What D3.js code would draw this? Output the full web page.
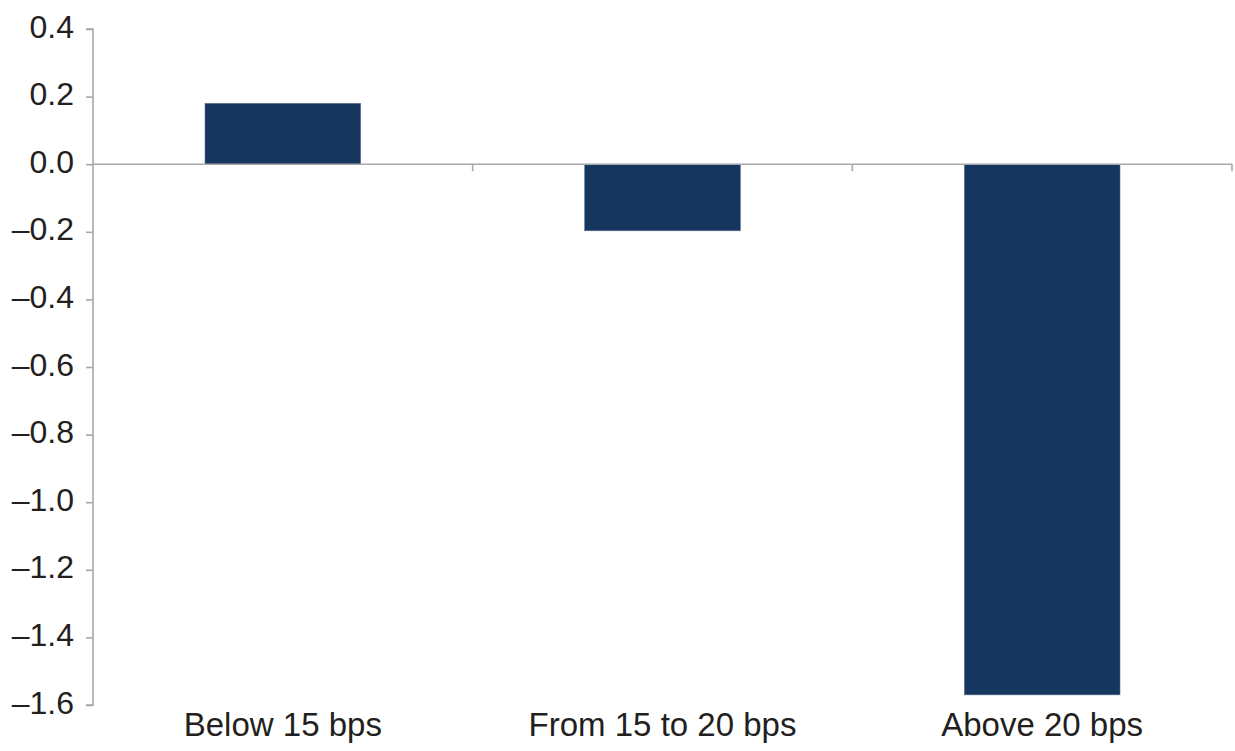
<!DOCTYPE html>
<html>
<head>
<meta charset="utf-8">
<script src="https://cdn.jsdelivr.net/npm/d3@7"></script>
<style>
  html, body { margin: 0; padding: 0; background: #fff; }
  svg { display: block; }
</style>
</head>
<body>
<svg id="chart" width="1235" height="751"></svg>
<script>
const categories = ["Below 15 bps", "From 15 to 20 bps", "Above 20 bps"];
const values = [0.18, -0.197, -1.57];
const yTicks = [0.4, 0.2, 0.0, -0.2, -0.4, -0.6, -0.8, -1.0, -1.2, -1.4, -1.6];

(function () {
const svg = d3.select("#chart");
const mLeft = 93, mRight = 1232, mTop = 29, mBottom = 705;
const axisColor = "#a6a8ab";
const textColor = "#231f20";
const barColor = "#15365e";
const font = "'Liberation Sans', Arial, Helvetica, sans-serif";

const x = d3.scaleBand().domain(categories).range([mLeft, mRight])
  .paddingInner(0.59).paddingOuter(0.295);
const y = d3.scaleLinear().domain([-1.6, 0.4]).range([mBottom, mTop]);

const fmt = v => (v < 0 ? "\u2013" : "") + Math.abs(v).toFixed(1);

// Y axis
const yAxis = svg.append("g").attr("transform", `translate(${mLeft},0)`)
  .call(d3.axisLeft(y).tickValues(yTicks).tickFormat(fmt).tickSize(7).tickPadding(12));
yAxis.select(".domain").attr("stroke", axisColor).attr("stroke-width", 1.6)
  .attr("d", `M-7,${y(0.4)}H0V${y(-1.6)}H-7`);
yAxis.selectAll(".tick line").attr("stroke", axisColor).attr("stroke-width", 1.6);
yAxis.selectAll(".tick text").attr("fill", textColor)
  .style("font-family", font).style("font-size", "32px").attr("dy", "0.25em");

// Bars
svg.append("g").selectAll("rect").data(values).join("rect")
  .attr("x", (d, i) => x(categories[i]))
  .attr("width", x.bandwidth())
  .attr("y", d => y(Math.max(0, d)))
  .attr("height", d => Math.abs(y(d) - y(0)))
  .attr("fill", barColor)
  .attr("stroke", "#5b7090").attr("stroke-width", 0.6);

// Zero line with category boundary ticks
const step = x.step();
const bounds = categories.map((c, i) => mLeft + step * (i + 1));
const zx = svg.append("g");
zx.append("line").attr("x1", mLeft).attr("x2", mRight).attr("y1", y(0)).attr("y2", y(0))
  .attr("stroke", axisColor).attr("stroke-width", 1.6);
zx.selectAll("line.tk").data(bounds).join("line").attr("class", "tk")
  .attr("x1", d => d).attr("x2", d => d).attr("y1", y(0)).attr("y2", y(0) + 7)
  .attr("stroke", axisColor).attr("stroke-width", 1.6);

// Category labels
svg.append("g").selectAll("text").data(categories).join("text")
  .attr("x", d => x(d) + x.bandwidth() / 2)
  .attr("y", 736)
  .attr("text-anchor", "middle")
  .attr("fill", textColor)
  .style("font-family", font).style("font-size", "33px")
  .text(d => d);
})();
</script>
</body>
</html>
